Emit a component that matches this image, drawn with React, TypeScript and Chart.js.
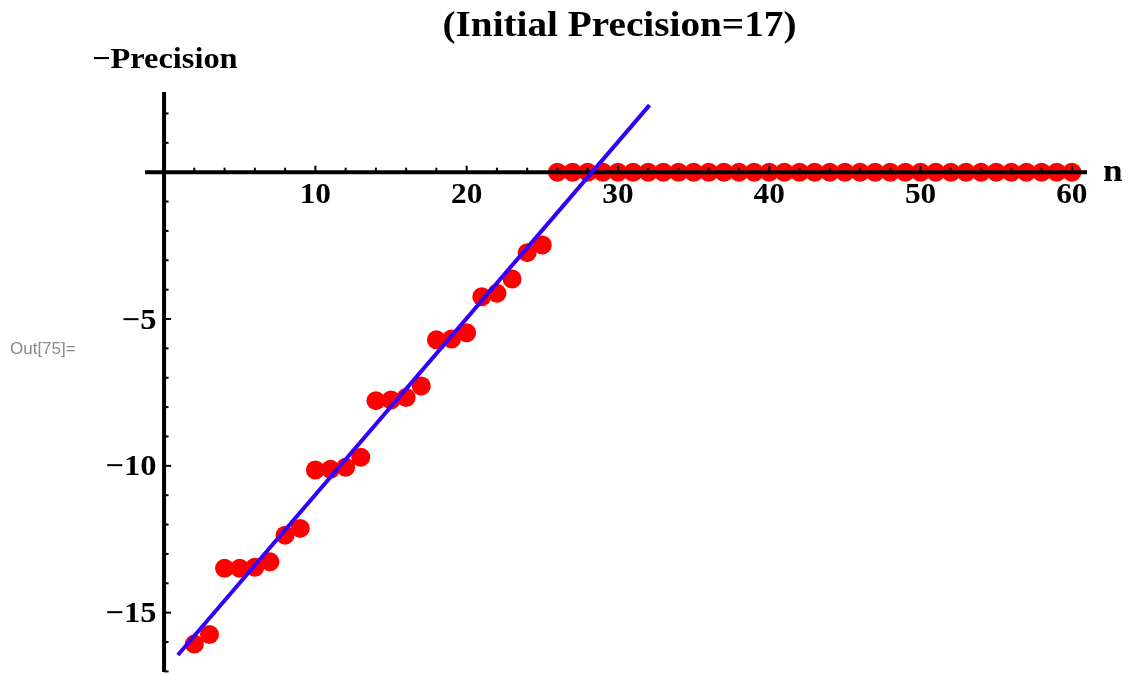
import React, { useEffect, useRef } from "react";
import { Chart, registerables } from "chart.js";

Chart.register(...registerables);

// Data
const nValues: number[] = [
  2, 3, 4, 5, 6, 7, 8, 9, 10, 11, 12, 13, 14, 15, 16, 17, 18, 19, 20, 21, 22, 23, 24, 25,
  26, 27, 28, 29, 30, 31, 32, 33, 34, 35, 36, 37, 38, 39, 40, 41, 42, 43, 44, 45, 46, 47,
  48, 49, 50, 51, 52, 53, 54, 55, 56, 57, 58, 59, 60,
];
const negPrecision: number[] = [
  -16.07, -15.74, -13.49, -13.49, -13.45, -13.27, -12.36, -12.13, -10.14, -10.12, -10.05,
  -9.71, -7.78, -7.76, -7.67, -7.28, -5.71, -5.68, -5.47, -4.24, -4.12, -3.64, -2.74, -2.48,
  0, 0, 0, 0, 0, 0, 0, 0, 0, 0, 0, 0, 0, 0, 0, 0, 0, 0, 0, 0, 0, 0, 0, 0, 0, 0, 0, 0, 0, 0,
  0, 0, 0, 0, 0,
];
const fitX: number[] = [1, 32];
const fitY: number[] = [-16.39, 2.23];

const xTickLabels: number[] = [10, 20, 30, 40, 50, 60];
const yTickLabels: number[] = [-5, -10, -15];

const titleText = "(Initial Precision=17)";
const yAxisLabel = "\u2212Precision";
const xAxisLabel = "n";
const outLabel = "Out[75]=";

const X_MIN = -1.26;
const X_MAX = 61.0;
const Y_MIN = -17.02;
const Y_MAX = 2.73;

const SERIF = "'Liberation Serif', 'DejaVu Serif', serif";

function text(ctx: any, s: string, x: number, y: number, align: string, sx: number) {
  ctx.save();
  ctx.translate(x, y);
  ctx.scale(sx, 1);
  ctx.textAlign = align;
  ctx.fillText(s, 0, 0);
  ctx.restore();
}

const axesPlugin = {
  id: "mmaAxes",
  afterDatasetDraw(chart: any, args: any) {
    if (args.index !== 1) return;
    const ctx = chart.ctx;
    const xs = chart.scales.x;
    const ys = chart.scales.y;
    const x0 = xs.getPixelForValue(0);
    const y0 = ys.getPixelForValue(0);
    ctx.save();
    ctx.strokeStyle = "#000";
    ctx.lineCap = "butt";
    ctx.lineWidth = 4;
    ctx.beginPath();
    ctx.moveTo(xs.getPixelForValue(X_MIN), y0);
    ctx.lineTo(xs.getPixelForValue(X_MAX), y0);
    ctx.stroke();
    ctx.beginPath();
    ctx.moveTo(x0, ys.getPixelForValue(Y_MAX));
    ctx.lineTo(x0, ys.getPixelForValue(Y_MIN));
    ctx.stroke();
    ctx.lineWidth = 2;
    for (let v = 2; v <= 60; v += 2) {
      const px = xs.getPixelForValue(v);
      const len = v % 10 === 0 ? 6.5 : 4.5;
      ctx.beginPath();
      ctx.moveTo(px, y0);
      ctx.lineTo(px, y0 - len);
      ctx.stroke();
    }
    for (let v = -17; v <= 2; v += 1) {
      if (v === 0) continue;
      const py = ys.getPixelForValue(v);
      const len = v % 5 === 0 ? 7 : 4.5;
      ctx.beginPath();
      ctx.moveTo(x0, py);
      ctx.lineTo(x0 + len, py);
      ctx.stroke();
    }
    ctx.fillStyle = "#000";
    ctx.font = `bold 29px ${SERIF}`;
    ctx.textBaseline = "alphabetic";
    for (const v of xTickLabels) {
      text(ctx, String(v), xs.getPixelForValue(v), y0 + 31, "center", 1.08);
    }
    for (const v of yTickLabels) {
      text(ctx, "\u2212" + String(Math.abs(v)), x0 - 7.5, ys.getPixelForValue(v) + 9.5, "right", 1.12);
    }
    ctx.restore();
  },
  afterDraw(chart: any) {
    const ctx = chart.ctx;
    const xs = chart.scales.x;
    const ys = chart.scales.y;
    ctx.save();
    ctx.fillStyle = "#000";
    ctx.textBaseline = "alphabetic";
    ctx.font = `bold 36px ${SERIF}`;
    text(ctx, titleText, 619.5, 36, "center", 1.09);
    ctx.font = `bold 30px ${SERIF}`;
    text(ctx, yAxisLabel, 92, 68, "left", 1.08);
    ctx.font = `bold 32px ${SERIF}`;
    text(ctx, xAxisLabel, 1103, ys.getPixelForValue(0) + 9, "left", 1.1);
    ctx.font = "17px 'Liberation Sans', Arial, sans-serif";
    ctx.fillStyle = "#8a8a8a";
    text(ctx, outLabel, 10, 354, "left", 1);
    ctx.restore();
  },
};

export default function App() {
  const ref = useRef<HTMLCanvasElement | null>(null);
  useEffect(() => {
    if (!ref.current) return;
    const chart = new Chart(ref.current, {
      type: "scatter",
      data: {
        datasets: [
          {
            type: "line",
            label: "fit",
            data: fitX.map((x, i) => ({ x, y: fitY[i] })),
            borderColor: "#3300ff",
            borderWidth: 4,
            borderCapStyle: "square",
            pointRadius: 0,
            fill: false,
            order: 0,
          } as any,
          {
            label: "-Precision",
            data: nValues.map((x, i) => ({ x, y: negPrecision[i] })),
            backgroundColor: "#ff0000",
            borderColor: "#ff0000",
            borderWidth: 0,
            pointRadius: 9.5,
            order: 1,
          },
        ],
      },
      options: {
        responsive: false,
        animation: false,
        events: [],
        layout: { autoPadding: false, padding: { left: 145, right: 41, top: 92, bottom: 5 } },
        plugins: { legend: { display: false }, tooltip: { enabled: false }, title: { display: false } },
        scales: {
          x: { type: "linear", min: X_MIN, max: X_MAX, display: false },
          y: { type: "linear", min: Y_MIN, max: Y_MAX, display: false },
        },
      },
      plugins: [axesPlugin],
    });
    return () => chart.destroy();
  }, []);
  return (
    <div style={{ position: "fixed", left: 0, top: 0, width: 1128, height: 677, background: "#fff" }}>
      <canvas ref={ref} width={1128} height={677} />
    </div>
  );
}
